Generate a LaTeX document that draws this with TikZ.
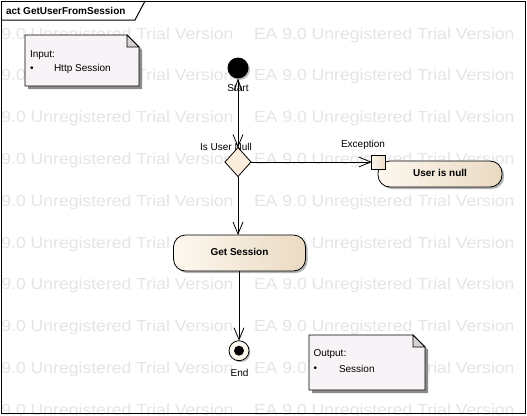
\documentclass[tikz,border=0pt]{standalone}
\usepackage{fontspec}
\setmainfont{Liberation Sans}
\usetikzlibrary{arrows.meta,shapes.geometric,shadows,calc}
\definecolor{wm}{RGB}{229,229,229}
\definecolor{notefill}{RGB}{247,243,247}
\definecolor{notefold}{RGB}{212,208,212}
\definecolor{actL}{RGB}{253,248,240}
\definecolor{actR}{RGB}{234,218,194}
\definecolor{decfill}{RGB}{250,237,220}
\definecolor{shadowc}{RGB}{140,140,140}
\newcommand\umlnote[4]{%
  \fill[shadowc] ($(#1,#2)+(3,3)$) -- ($(#3,#2)+(-9,3)$) -- ($(#3,#2)+(3,15)$) -- ($(#3,#4)+(3,3)$) -- ($(#1,#4)+(3,3)$) -- cycle;
  \draw[fill=notefill,line width=0.8pt] (#1,#2) -- ($(#3,#2)+(-12,0)$) -- ($(#3,#2)+(0,12)$) -- (#3,#4) -- (#1,#4) -- cycle;
  \draw[fill=notefold,line width=0.8pt] ($(#3,#2)+(-12,0)$) -- ($(#3,#2)+(-12,12)$) -- ($(#3,#2)+(0,12)$) -- cycle;}
\begin{document}
\begin{tikzpicture}[x=1pt,y=-1pt,
  every node/.style={font=\fontsize{10}{12}\selectfont, inner sep=0pt, outer sep=0pt},
  wmtext/.style={font=\fontsize{16}{19}\selectfont, text=wm, anchor=west, xscale=1.1},
  lbl/.style={font=\fontsize{10}{12}\selectfont},
  notetext/.style={font=\fontsize{10}{12}\selectfont, anchor=west},
  action/.style={draw, line width=0.8pt, rounded corners=12pt, left color=actL, right color=actR,
     font=\bfseries\fontsize{10}{12}\selectfont,
     drop shadow={shadow xshift=2pt, shadow yshift=-2pt, fill=black, opacity=0.3}},
  pinbox/.style={draw, line width=0.8pt, left color=actL, right color=actR, minimum size=14pt},
  decision/.style={diamond, draw, line width=0.8pt, fill=decfill, minimum width=26pt, minimum height=29pt},
  tip/.style={Straight Barb[length=12pt,width=10pt]},
  ctrlflow/.style={line width=0.8pt, -{Straight Barb[length=12pt,width=10pt]}},
  ctrlflowboth/.style={line width=0.8pt, {Straight Barb[length=11pt,width=8pt]}-{Straight Barb[length=12pt,width=10pt]}}
]
\useasboundingbox (0,0) rectangle (527,415);
\fill[white] (0,0) rectangle (527,415);
% watermark
\begin{scope}
\clip (0,0) rectangle (527,415);
\foreach \k in {0,...,9}{
  \node[wmtext] (wma\k) at (-27,{35+41.8*\k}) {EA 9.0 Unregistered Trial Version};
  \node[wmtext] (wmb\k) at (254,{35+41.8*\k}) {EA 9.0 Unregistered Trial Version};
}
\end{scope}
% frame
\draw[line width=1pt] (1,1) rectangle (525.5,413.5);
\draw[line width=1pt] (1,20) -- (135,20) -- (145,1);
\node[anchor=west, font=\bfseries\fontsize{10}{12}\selectfont] (title) at (6,10.5) {act GetUserFromSession};
% notes
\umlnote{25}{35}{139}{86}
\node[notetext] (intitle) at (30,55) {Input:};
\node[notetext] (inbullet) at (30,69) {•};
\node[notetext] (initem) at (54,69) {Http Session};
\umlnote{309}{335}{425}{390}
\node[notetext] (outtitle) at (313.5,354.5) {Output:};
\node[notetext] (outbullet) at (313.5,369) {•};
\node[notetext] (outitem) at (339,369) {Session};
% nodes
\node[circle, fill=black, minimum size=21pt,
  drop shadow={shadow xshift=1.5pt, shadow yshift=-1.5pt, fill=black, opacity=0.25}] (start) at (238,68) {};
\node[decision] (dec) at (238,162) {};
\node[action, minimum width=124pt, minimum height=26pt] (usernull) at (440,174) {\raisebox{2pt}{User is null}};
\node[pinbox] (pinexc) at (378.7,162) {};
\node[action, minimum width=132pt, minimum height=36pt] (getsession) at (239.5,253) {\raisebox{3pt}{Get Session}};
\node[circle, draw, line width=0.8pt, fill=actL, minimum size=20pt,
  drop shadow={shadow xshift=1.5pt, shadow yshift=-1.5pt, fill=black, opacity=0.25}] (end) at (239,350.7) {};
\node[circle, fill=black, minimum size=10pt] (enddot) at (end) {};
% labels
\node[lbl] (lblstart) at (238,88.5) {Start};
\node[lbl] (lbldec) at (226,147) {Is User Null};
\node[lbl] (lblexc) at (363,145) {Exception};
\node[lbl] (lblend) at (239.5,373) {End};
% connectors
\draw[ctrlflowboth] (start.south) -- (dec.north);
\draw[ctrlflow] (dec.east) -- (pinexc.west);
\draw[ctrlflow] (dec.south) -- (dec.south |- getsession.north);
\draw[ctrlflow] (getsession.south -| end.north) -- (end.north);
\end{tikzpicture}
\end{document}
